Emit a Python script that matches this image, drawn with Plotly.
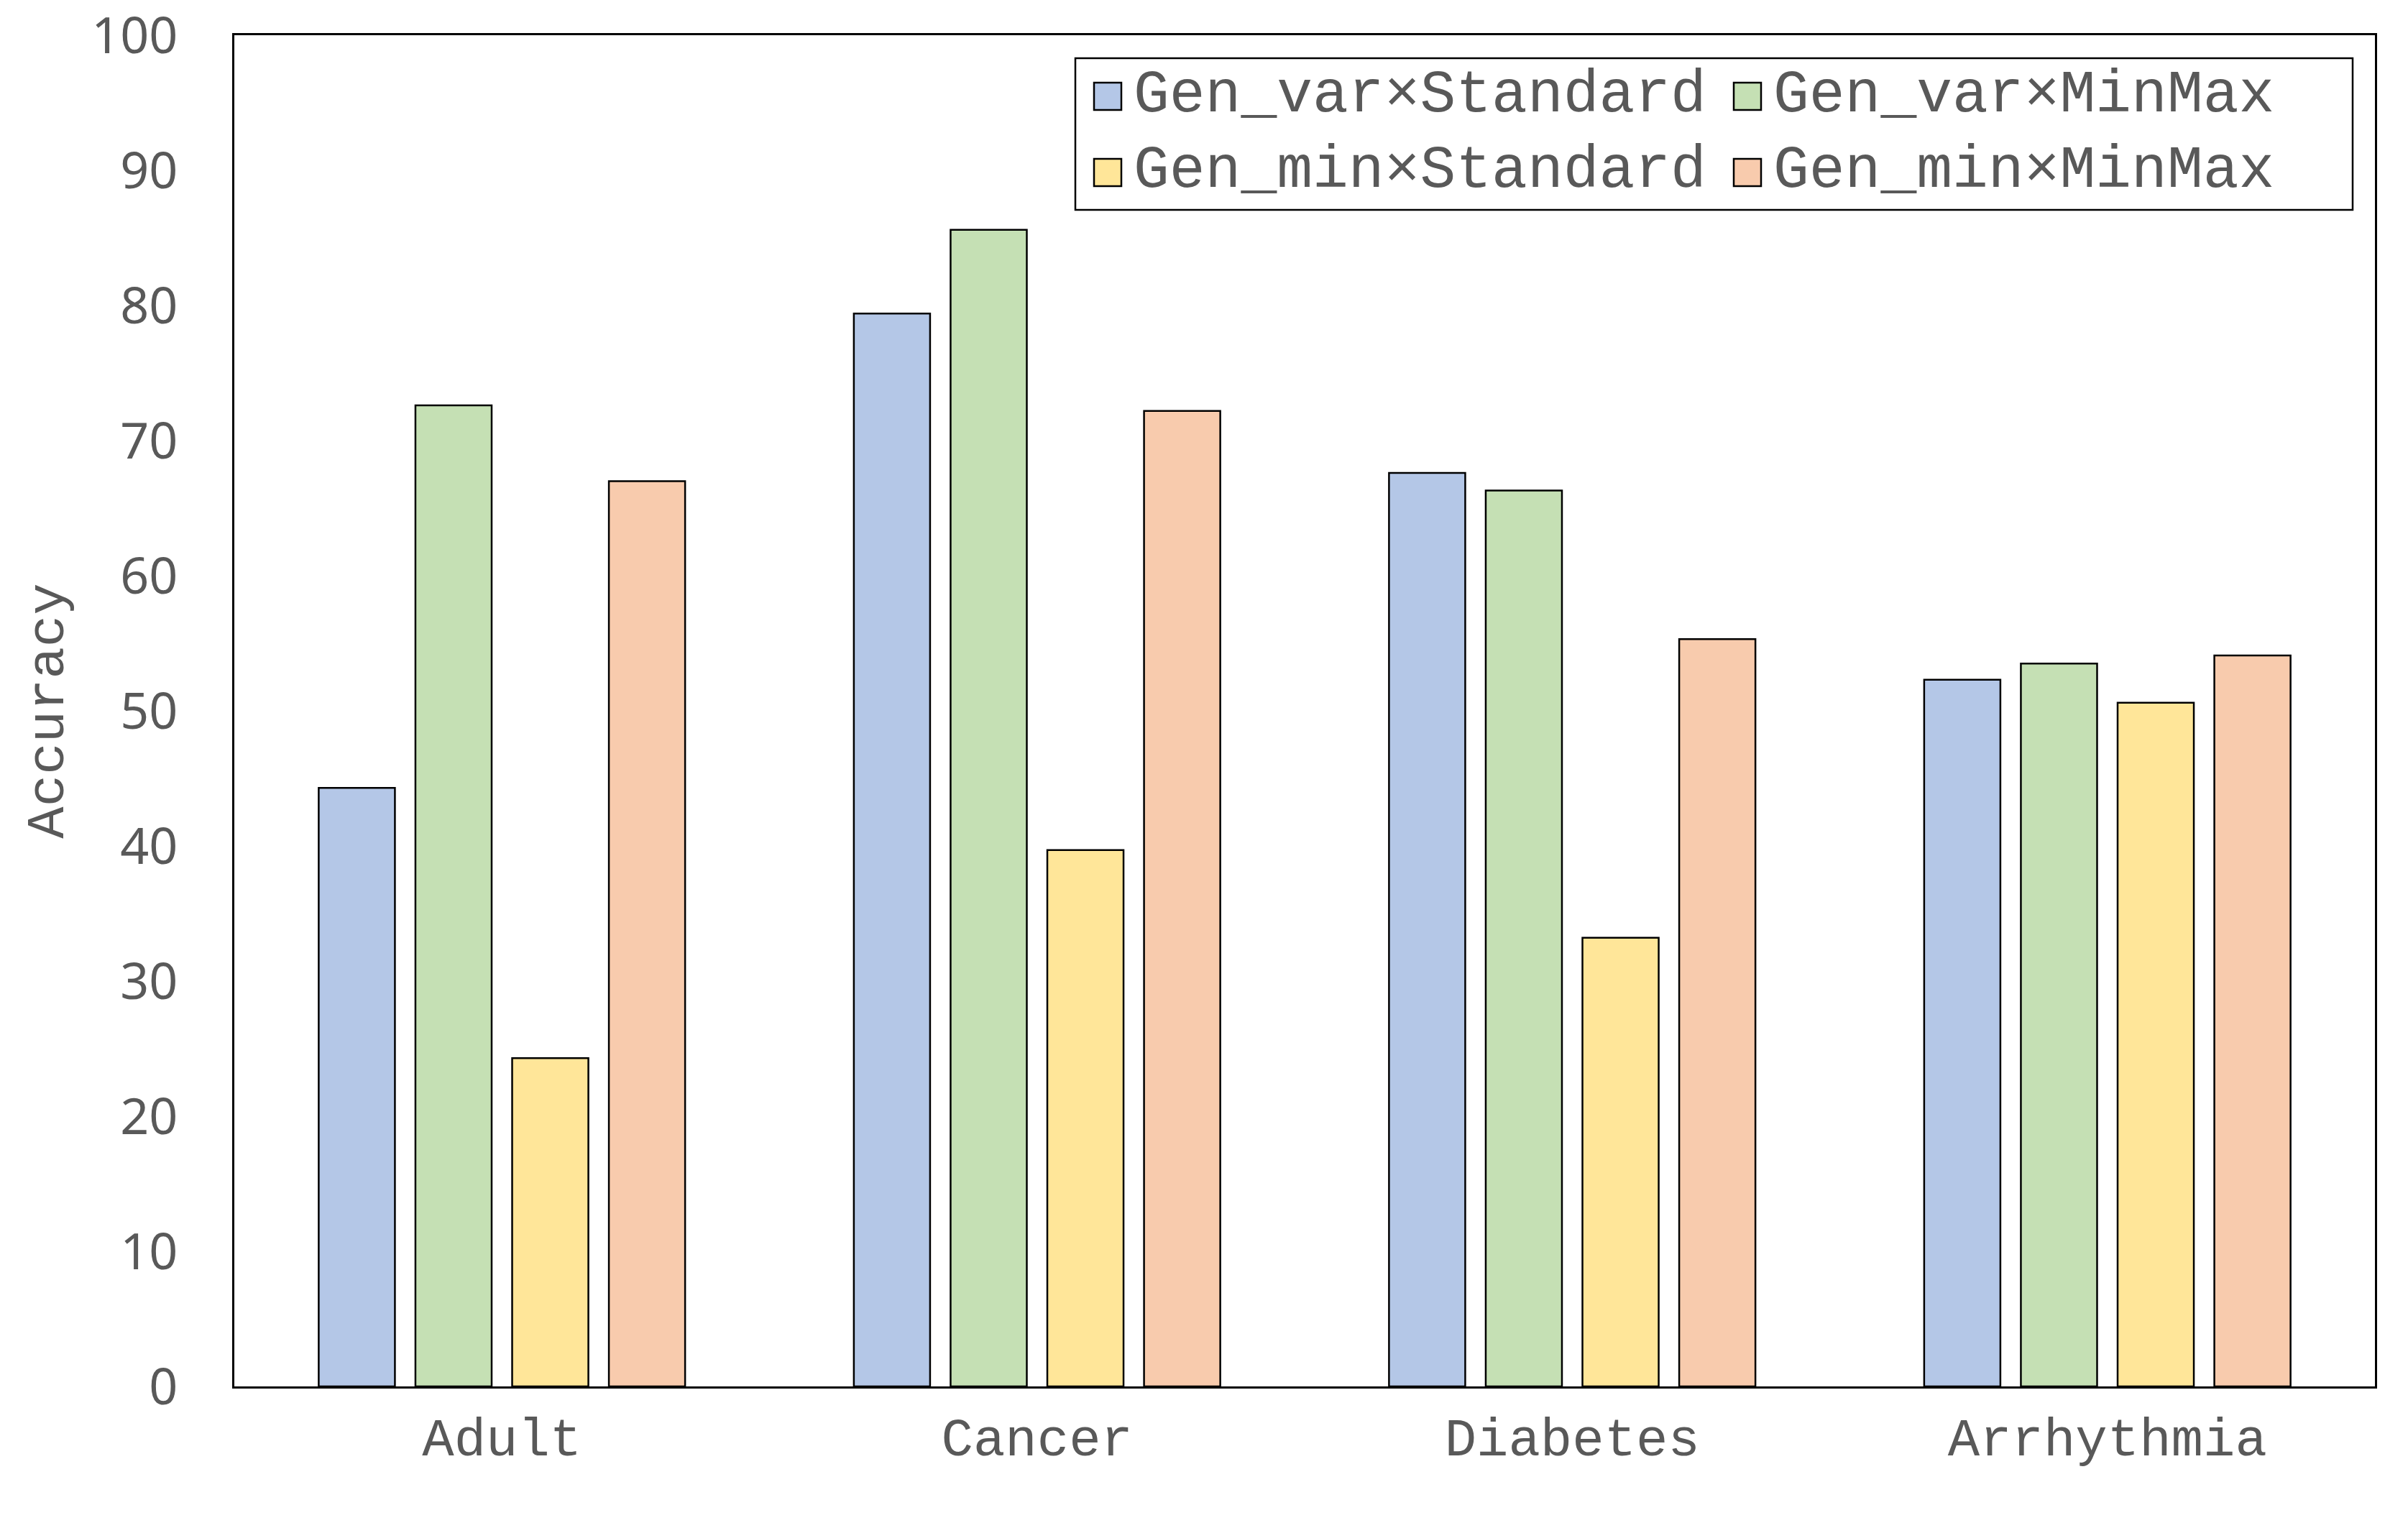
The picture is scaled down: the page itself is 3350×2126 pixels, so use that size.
import plotly.graph_objects as go

categories = ["Adult", "Cancer", "Diabetes", "Arrhythmia"]
series_names = ["Gen_var×Standard", "Gen_var×MinMax", "Gen_min×Standard", "Gen_min×MinMax"]
gen_var_standard = [44.3, 79.4, 67.6, 52.3]
gen_var_minmax = [72.6, 85.6, 66.3, 53.5]
gen_min_standard = [24.3, 39.7, 33.2, 50.6]
gen_min_minmax = [67.0, 72.2, 55.3, 54.1]
y_ticks = [0, 10, 20, 30, 40, 50, 60, 70, 80, 90, 100]

colors = ["#B4C7E7", "#C5E0B4", "#FFE699", "#F8CBAD"]
values = [gen_var_standard, gen_var_minmax, gen_min_standard, gen_min_minmax]

W, H = 3350, 2126
OFF = 8  # page body margin
# plot area in screenshot pixels
PL, PR, PT, PB = 326, 3304, 49, 1929
ML = PL - OFF
MT = PT - OFF
MR = W - (PR - OFF)
MB = H - (PB - OFF)
mono = "Liberation Mono, Courier New, monospace"
gray = "#595959"

pw = PR - PL
ph = PB - PT
def fx(p):  # screenshot px -> paper x
    return (p - PL) / pw
def fy(p):  # screenshot px -> paper y
    return (PB - p) / ph

fig = go.Figure()
for name, vals, col in zip(series_names, values, colors):
    fig.add_trace(go.Bar(
        x=categories, y=vals, name=name, showlegend=False,
        marker=dict(color=col, line=dict(color="black", width=2.5)),
    ))

# legend layout in screenshot px
leg_ids = ["legend", "legend2", "legend3", "legend4"]
text_x = [1577, 2467, 1577, 2467]
text_y = [123, 123, 228, 228]
sym_x = [1541, 2431, 1541, 2431]
sym_y = [134, 134, 240, 240]
SYM = 38

shapes = [dict(type="rect", xref="paper", yref="paper",
               x0=fx(1496), x1=fx(3273), y0=fy(292), y1=fy(81),
               line=dict(color="black", width=2.5), fillcolor="rgba(0,0,0,0)")]
legends = {}
for name, col, lg, tx, ty, sx, sy in zip(series_names, colors, leg_ids, text_x, text_y, sym_x, sym_y):
    fig.add_trace(go.Scatter(
        x=[None], y=[None], mode="markers", name=name, legend=lg,
        marker=dict(symbol="square", size=1, color="rgba(0,0,0,0)", line=dict(width=0)),
    ))
    legends[lg] = dict(
        x=fx(tx - 40), y=fy(ty), xanchor="left", yanchor="middle",
        orientation="v", bgcolor="rgba(0,0,0,0)", borderwidth=0,
        font=dict(family=mono, size=83, color=gray),
    )
    shapes.append(dict(type="rect", xref="paper", yref="paper",
                       x0=fx(sx - SYM / 2), x1=fx(sx + SYM / 2),
                       y0=fy(sy + SYM / 2), y1=fy(sy - SYM / 2),
                       line=dict(color="black", width=2.5), fillcolor=col))

fig.update_layout(
    width=W, height=H,
    margin=dict(l=ML, r=MR, t=MT, b=MB, autoexpand=False),
    paper_bgcolor="white", plot_bgcolor="white",
    barmode="group", bargap=0.277, bargroupgap=0.212,
    shapes=shapes,
    xaxis=dict(
        showline=True, mirror=True, linecolor="black", linewidth=2.5,
        showgrid=False, ticks="", ticklabelstandoff=4,
        tickfont=dict(family=mono, size=74, color=gray),
    ),
    yaxis=dict(
        range=[0, 100], tickvals=y_ticks, showline=True, mirror=True,
        linecolor="black", linewidth=2.5, showgrid=False, zeroline=False,
        ticks="", ticklabelstandoff=62, ticklabeloverflow="allow",
        tickfont=dict(family="Noto Sans, Open Sans, sans-serif", size=70, color=gray),
        title=dict(text="Accuracy", standoff=15,
                   font=dict(family=mono, size=74, color=gray)),
    ),
    **legends,
)

fig.write_html("out.html")
